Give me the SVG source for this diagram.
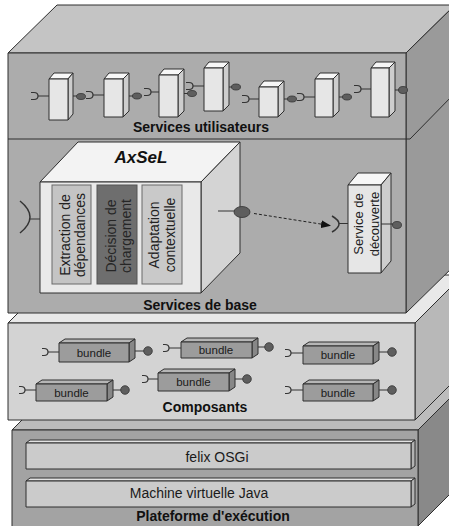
<svg xmlns="http://www.w3.org/2000/svg" width="449" height="526" viewBox="0 0 449 526">
<style>
  .edge{stroke:#2e2e2e;stroke-width:1;stroke-linejoin:round}
  .title{font-family:"Liberation Sans",Arial,sans-serif;font-weight:bold;font-size:14px;fill:#111;text-anchor:middle}
  .lbl{font-family:"Liberation Sans",Arial,sans-serif;font-size:14px;fill:#1a1a1a;text-anchor:middle}
  .vlbl{font-family:"Liberation Sans",Arial,sans-serif;font-size:14px;fill:#222;text-anchor:middle}
  .blbl{font-family:"Liberation Sans",Arial,sans-serif;font-size:11.5px;fill:#1a1a1a;text-anchor:middle}
  .cf{fill:#e6e6e6}.ct{fill:#f7f7f7}.cs{fill:#cdcdcd}
  .bf{fill:#9c9c9c}.bt{fill:#b6b6b6}.bs{fill:#878787}
  .wire{stroke:#333;stroke-width:1;fill:none}
  .sock{stroke:#333;stroke-width:1.2;fill:none}
  .lol{fill:#5e5e5e;stroke:#333;stroke-width:0.8}
</style>
<defs>
  <marker id="arr" markerWidth="10" markerHeight="8" refX="9" refY="4" orient="auto" markerUnits="userSpaceOnUse">
    <path d="M0,0 L10,4 L0,8 z" fill="#111"/>
  </marker>
</defs>

<!-- Platform layer -->
<g id="layer-platform">
  <polygon class="edge" points="12,430 60,382 466,382 418,430" fill="#bcbcbc"/>
  <polygon class="edge" points="418,430 466,382 466,478 418,526" fill="#898989"/>
  <rect class="edge" x="12" y="430" width="406" height="100" fill="#a3a3a3"/>
  <text class="title" x="213" y="521">Plateforme d'exécution</text>
</g>
<g id="felix">
  <polygon class="edge" points="26,443 30,440 415,440 411,443" fill="#e2e2e2"/>
  <polygon class="edge" points="411,443 415,440 415,466 411,469" fill="#b3b3b3"/>
  <rect class="edge" x="26" y="443" width="385" height="26" fill="#cbcbcb"/>
  <text class="lbl" x="217" y="462">felix OSGi</text>
</g>
<g id="jvm">
  <polygon class="edge" points="26,481 30,478 415,478 411,481" fill="#e2e2e2"/>
  <polygon class="edge" points="411,481 415,478 415,504 411,507" fill="#b3b3b3"/>
  <rect class="edge" x="26" y="481" width="385" height="26" fill="#cbcbcb"/>
  <text class="lbl" x="199" y="498">Machine virtuelle Java</text>
</g>

<!-- Composants layer -->
<g id="layer-composants">
  <polygon class="edge" points="8,323 56,275 463,275 415,323" fill="#e8e8e8"/>
  <polygon class="edge" points="415,323 463,275 463,372 415,420" fill="#b8b8b8"/>
  <rect class="edge" x="8" y="323" width="407" height="97" fill="#d3d3d3"/>
  <text class="title" x="205" y="412">Composants</text>
</g>
<g id="bundle1">
  <polygon class="edge bt" points="59,343 65,339 135,339 129,343"/>
  <polygon class="edge bs" points="129,343 135,339 135,358 129,362"/>
  <rect class="edge bf" x="59" y="343" width="70" height="19"/>
  <text class="blbl" x="94" y="356.5">bundle</text>
</g>
<g id="bundle2">
  <polygon class="edge bt" points="181,342 187,338 258,338 252,342"/>
  <polygon class="edge bs" points="252,342 258,338 258,354 252,358"/>
  <rect class="edge bf" x="181" y="342" width="71" height="16"/>
  <text class="blbl" x="216" y="354">bundle</text>
</g>
<g id="bundle3">
  <polygon class="edge bt" points="303,346 309,342 379,342 373,346"/>
  <polygon class="edge bs" points="373,346 379,342 379,360 373,364"/>
  <rect class="edge bf" x="303" y="346" width="70" height="18"/>
  <text class="blbl" x="338" y="359">bundle</text>
</g>
<g id="bundle4">
  <polygon class="edge bt" points="36,384 42,380 113,380 107,384"/>
  <polygon class="edge bs" points="107,384 113,380 113,397 107,401"/>
  <rect class="edge bf" x="36" y="384" width="71" height="17"/>
  <text class="blbl" x="71.5" y="396.5">bundle</text>
</g>
<g id="bundle5">
  <polygon class="edge bt" points="158,373 164,369 235,369 229,373"/>
  <polygon class="edge bs" points="229,373 235,369 235,387 229,391"/>
  <rect class="edge bf" x="158" y="373" width="71" height="18"/>
  <text class="blbl" x="193.5" y="386">bundle</text>
</g>
<g id="bundle6">
  <polygon class="edge bt" points="303,384 309,380 379,380 373,384"/>
  <polygon class="edge bs" points="373,384 379,380 379,397 373,401"/>
  <rect class="edge bf" x="303" y="384" width="70" height="17"/>
  <text class="blbl" x="338" y="396.5">bundle</text>
</g>

<!-- Top block: Services utilisateurs / Services de base -->
<g id="layer-services">
  <polygon class="edge" points="8,53 57,5 455,5 406,53" fill="#c4c4c4"/>
  <polygon class="edge" points="406,53 455,5 455,265 406,313" fill="#9a9a9a"/>
  <rect class="edge" x="8" y="53" width="398" height="260" fill="#acacac"/>
  <line class="edge" x1="8" y1="139" x2="410" y2="139"/>
  <line class="edge" x1="410" y1="139" x2="455" y2="93"/>
  <text class="title" x="201" y="132">Services utilisateurs</text>
  <text class="title" x="200" y="310">Services de base</text>
</g>

<g id="us1">
  <polygon class="edge ct" points="49,79 54,73 73,73 68,79"/>
  <polygon class="edge cs" points="68,79 73,73 73,114 68,120"/>
  <rect class="edge cf" x="49" y="79" width="19" height="41"/>
</g>
<g id="us2">
  <polygon class="edge ct" points="104,79 109,73 129,73 123,79"/>
  <polygon class="edge cs" points="123,79 129,73 129,111 123,117"/>
  <rect class="edge cf" x="104" y="79" width="19" height="38"/>
</g>
<g id="us3">
  <polygon class="edge ct" points="159,75 164,69 184,69 178,75"/>
  <polygon class="edge cs" points="178,75 184,69 184,111 178,117"/>
  <rect class="edge cf" x="159" y="75" width="19" height="42"/>
</g>
<g id="us4">
  <polygon class="edge ct" points="204,68 209,62 229,62 223,68"/>
  <polygon class="edge cs" points="223,68 229,62 229,105 223,111"/>
  <rect class="edge cf" x="204" y="68" width="19" height="43"/>
</g>
<g id="us5">
  <polygon class="edge ct" points="259,87 264,81 284,81 278,87"/>
  <polygon class="edge cs" points="278,87 284,81 284,111 278,117"/>
  <rect class="edge cf" x="259" y="87" width="19" height="30"/>
</g>
<g id="us6">
  <polygon class="edge ct" points="315,79 320,73 339,73 333,79"/>
  <polygon class="edge cs" points="333,79 339,73 339,111 333,117"/>
  <rect class="edge cf" x="315" y="79" width="18" height="38"/>
</g>
<g id="us7">
  <polygon class="edge ct" points="371,68 376,62 395,62 389,68"/>
  <polygon class="edge cs" points="389,68 395,62 395,111 389,117"/>
  <rect class="edge cf" x="371" y="68" width="18" height="49"/>
</g>

<g id="axsel">
  <polygon class="edge" points="40,182 78,142 240,142 201,182" fill="#f3f3f3"/>
  <polygon class="edge" points="201,182 240,142 240,253 201,293" fill="#d4d4d4"/>
  <rect class="edge" x="40" y="182" width="161" height="111" fill="#e9e9e9"/>
  <text x="141" y="163" font-family="Liberation Sans, Arial, sans-serif" font-size="17" font-weight="bold" font-style="italic" fill="#111" text-anchor="middle">AxSeL</text>
  <rect x="52" y="185" width="39" height="99" fill="#c4c4c4" stroke="#6a6a6a"/>
  <rect x="97" y="185" width="40" height="99" fill="#6e6e6e" stroke="#555"/>
  <rect x="142" y="185" width="40" height="99" fill="#c9c9c9" stroke="#6a6a6a"/>
  <text class="vlbl" transform="translate(71.5,235) rotate(-90)"><tspan x="0" y="-2">Extraction de</tspan><tspan x="0" y="13">dépendances</tspan></text>
  <text class="vlbl" transform="translate(117,236) rotate(-90)" style="fill:#262626"><tspan x="0" y="-1">Décision de</tspan><tspan x="0" y="14">chargement</tspan></text>
  <text class="vlbl" transform="translate(162,235) rotate(-90)"><tspan x="0" y="-3">Adaptation</tspan><tspan x="0" y="13">contextuelle</tspan></text>
</g>

<g id="decouverte">
  <polygon class="edge ct" points="348,185 358,173 391,173 381,185"/>
  <polygon class="edge cs" points="381,185 391,173 391,261 381,273"/>
  <rect class="edge cf" x="348" y="185" width="33" height="88"/>
  <text class="vlbl" style="font-size:13px" transform="translate(364.5,224) rotate(-90)"><tspan x="0" y="-2">Service de</tspan><tspan x="0" y="14">découverte</tspan></text>
</g>

<!-- Connectors / interfaces -->
<g id="connectors">
  <!-- user services chain -->
  <path class="sock" d="M31,92.5 L34,92.5 Q38,92.5 38,96 Q38,99.5 34,99.5 L31,99.5"/>
  <line class="wire" x1="38" y1="96" x2="49" y2="96"/>
  <line class="wire" x1="73" y1="96" x2="77" y2="96"/>
  <ellipse class="lol" cx="81" cy="96.5" rx="4.5" ry="3"/>
  <path class="sock" d="M86,91.5 L89,91.5 Q93,91.5 93,95 Q93,98.5 89,98.5 L86,98.5"/>
  <line class="wire" x1="93" y1="95" x2="104" y2="95"/>
  <line class="wire" x1="129" y1="96" x2="133" y2="96"/>
  <ellipse class="lol" cx="137" cy="96" rx="4.5" ry="3"/>
  <path class="sock" d="M144,88.5 L147,88.5 Q151,88.5 151,92 Q151,95.5 147,95.5 L144,95.5"/>
  <line class="wire" x1="151" y1="92" x2="159" y2="92"/>
  <line class="wire" x1="184" y1="93.5" x2="188" y2="93.5"/>
  <ellipse class="lol" cx="192" cy="93.5" rx="4.5" ry="3"/>
  <path class="sock" d="M186,82.5 L189,82.5 Q193,82.5 193,86 Q193,89.5 189,89.5 L186,89.5"/>
  <line class="wire" x1="193" y1="86" x2="204" y2="86"/>
  <line class="wire" x1="229" y1="87" x2="232" y2="87"/>
  <ellipse class="lol" cx="236" cy="87" rx="4.5" ry="3"/>
  <path class="sock" d="M242,95.5 L245,95.5 Q249,95.5 249,99 Q249,102.5 245,102.5 L242,102.5"/>
  <line class="wire" x1="249" y1="99" x2="259" y2="99"/>
  <line class="wire" x1="284" y1="99" x2="288" y2="99"/>
  <ellipse class="lol" cx="292" cy="99" rx="4.5" ry="3"/>
  <path class="sock" d="M297,93.5 L300,93.5 Q304,93.5 304,97 Q304,100.5 300,100.5 L297,100.5"/>
  <line class="wire" x1="304" y1="97" x2="315" y2="97"/>
  <line class="wire" x1="339" y1="97" x2="343" y2="97"/>
  <ellipse class="lol" cx="347" cy="97" rx="4.5" ry="3"/>
  <path class="sock" d="M354,85.5 L357,85.5 Q361,85.5 361,89 Q361,92.5 357,92.5 L354,92.5"/>
  <line class="wire" x1="361" y1="89" x2="371" y2="89"/>
  <line class="wire" x1="395" y1="90" x2="399" y2="90"/>
  <ellipse class="lol" cx="403" cy="90" rx="4.5" ry="3.5"/>

  <!-- AxSeL interfaces -->
  <path class="sock" style="stroke-width:1.5" d="M20,201 Q40,217 20,233"/>
  <line class="wire" x1="30" y1="219" x2="40" y2="219"/>
  <line class="wire" x1="218" y1="211" x2="235" y2="211"/>
  <ellipse class="lol" cx="242" cy="212" rx="8" ry="5.5"/>
  <line x1="254" y1="213.5" x2="330" y2="225.5" stroke="#222" stroke-width="1" stroke-dasharray="3,2" marker-end="url(#arr)"/>
  <path class="sock" style="stroke-width:1.5" d="M332,216 Q346,224 332,232"/>
  <line class="wire" x1="339" y1="223.5" x2="348" y2="223.5"/>
  <line class="wire" x1="381" y1="224" x2="393" y2="224"/>
  <ellipse class="lol" cx="397" cy="225" rx="4.5" ry="3.5"/>

  <!-- bundle interfaces -->
  <path class="sock" d="M42,348.5 L44,348.5 Q48,348.5 48,352 Q48,355.5 44,355.5 L42,355.5"/>
  <line class="wire" x1="48" y1="352" x2="59" y2="352"/>
  <line class="wire" x1="135" y1="351" x2="144" y2="351"/>
  <circle class="lol" cx="148" cy="351" r="4.3"/>
  <path class="sock" d="M163,344.5 L165,344.5 Q169,344.5 169,348 Q169,351.5 165,351.5 L163,351.5"/>
  <line class="wire" x1="169" y1="348" x2="181" y2="348"/>
  <line class="wire" x1="258" y1="347" x2="265" y2="347"/>
  <circle class="lol" cx="269" cy="347" r="4.3"/>
  <path class="sock" d="M285,349.5 L287,349.5 Q291,349.5 291,353 Q291,356.5 287,356.5 L285,356.5"/>
  <line class="wire" x1="291" y1="353" x2="303" y2="353"/>
  <line class="wire" x1="379" y1="352" x2="388" y2="352"/>
  <circle class="lol" cx="392" cy="352" r="4.3"/>
  <path class="sock" d="M19,386.5 L21,386.5 Q25,386.5 25,390 Q25,393.5 21,393.5 L19,393.5"/>
  <line class="wire" x1="25" y1="390" x2="36" y2="390"/>
  <line class="wire" x1="113" y1="390" x2="121" y2="390"/>
  <circle class="lol" cx="125" cy="390" r="4.3"/>
  <path class="sock" d="M142,375.5 L144,375.5 Q148,375.5 148,379 Q148,382.5 144,382.5 L142,382.5"/>
  <line class="wire" x1="148" y1="379" x2="158" y2="379"/>
  <line class="wire" x1="235" y1="379" x2="243" y2="379"/>
  <circle class="lol" cx="247" cy="379" r="4.3"/>
  <path class="sock" d="M285,386.5 L287,386.5 Q291,386.5 291,390 Q291,393.5 287,393.5 L285,393.5"/>
  <line class="wire" x1="291" y1="390" x2="303" y2="390"/>
  <line class="wire" x1="379" y1="390" x2="388" y2="390"/>
  <circle class="lol" cx="392" cy="390" r="4.3"/>
</g>
</svg>
